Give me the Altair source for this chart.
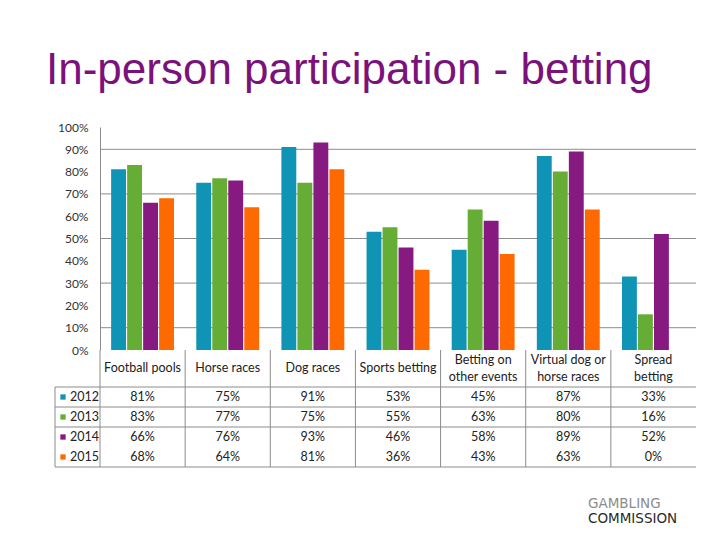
import altair as alt
import pandas as pd

categories = ["Football pools", "Horse races", "Dog races", "Sports betting",
              "Betting on other events", "Virtual dog or horse races", "Spread betting"]
header_line1 = ["Football pools", "Horse races", "Dog races", "Sports betting",
                "Betting on", "Virtual dog or", "Spread"]
header_line2 = ["", "", "", "", "other events", "horse races", "betting"]
years = ["2012", "2013", "2014", "2015"]
values_2012 = [81, 75, 91, 53, 45, 87, 33]
values_2013 = [83, 77, 75, 55, 63, 80, 16]
values_2014 = [66, 76, 93, 46, 58, 89, 52]
values_2015 = [68, 64, 81, 36, 43, 63, 0]
colors = ["#0f94b5", "#66ad36", "#861a80", "#ff6a00"]
y_ticks = list(range(0, 101, 10))
grid_values = [10, 30, 50, 70, 90]
title_text = "In-person participation - betting"
logo_lines = ["GAMBLING", "COMMISSION"]

rows = []
for yr, vals in zip(years, [values_2012, values_2013, values_2014, values_2015]):
    for c, v in zip(categories, vals):
        rows.append({"category": c, "year": yr, "value": v, "label": f"{v}%"})
df = pd.DataFrame(rows)

hdr = pd.DataFrame({"category": categories, "l1": header_line1, "l2": header_line2})
hdr_single = hdr[hdr["l2"] == ""]
hdr_double = hdr[hdr["l2"] != ""]

FONT = "Lato"
LINE = "#8c8c8c"
TXT = "#222222"
W = 596
PLOT_H = 223
H = 340
TABLE_TOP = 260

cat_scale = alt.Scale(domain=categories, paddingInner=0, paddingOuter=0)
x_enc = alt.X("category:N", sort=categories, scale=cat_scale, axis=None)
val_scale = alt.Scale(domain=[0, 100], range=[PLOT_H, 0], nice=False, zero=True)
row_scale = alt.Scale(domain=years, range=[TABLE_TOP, H], paddingInner=0, paddingOuter=0)
color_scale = alt.Scale(domain=years, range=colors)

grid = alt.Chart(pd.DataFrame({"v": grid_values})).mark_rule(color=LINE, strokeWidth=1).encode(
    y=alt.Y("v:Q", scale=val_scale, axis=None),
    x=alt.value(0), x2=alt.value(W))

bars = alt.Chart(df).mark_bar().encode(
    x=x_enc,
    xOffset=alt.XOffset("year:N", sort=years,
                        scale=alt.Scale(domain=years, paddingInner=0.07, paddingOuter=0.695)),
    y=alt.Y("value:Q", scale=val_scale,
            axis=alt.Axis(values=y_ticks, labelExpr="datum.value + '%'", ticks=False, grid=False,
                          domainColor=LINE, title=None, labelPadding=12, labelFont=FONT,
                          labelFontSize=12, labelColor="#333333")),
    color=alt.Color("year:N", scale=color_scale, legend=None))

def header_layer(data, field, ypos):
    return alt.Chart(data).mark_text(baseline="middle", fontSize=12.5, font=FONT, color=TXT).encode(
        x=x_enc, y=alt.value(ypos), text=f"{field}:N")

head_single = header_layer(hdr_single, "l1", 241)
head_top = header_layer(hdr_double, "l1", 233)
head_bot = header_layer(hdr_double, "l2", 250)

cells = alt.Chart(df).mark_text(baseline="middle", fontSize=12.5, font=FONT, color=TXT).encode(
    x=x_enc, y=alt.Y("year:N", scale=row_scale, axis=None), text="label:N")

row_df = pd.DataFrame({"year": years})
row_text = alt.Chart(row_df).mark_text(align="left", baseline="middle", fontSize=12.5, font=FONT,
                                       color=TXT).encode(
    x=alt.value(-30), y=alt.Y("year:N", scale=row_scale, axis=None), text="year:N")
row_sq = alt.Chart(row_df).mark_square(size=28, opacity=1).encode(
    x=alt.value(-37), y=alt.Y("year:N", scale=row_scale, axis=None),
    color=alt.Color("year:N", scale=color_scale, legend=None))

hlines_top = alt.Chart(pd.DataFrame({"year": years[:3]})).mark_rule(color=LINE).encode(
    y=alt.Y("year:N", scale=row_scale, bandPosition=0, axis=None),
    x=alt.value(-45), x2=alt.value(W))
hline_bottom = alt.Chart(pd.DataFrame({"year": years[3:]})).mark_rule(color=LINE).encode(
    y=alt.Y("year:N", scale=row_scale, bandPosition=1, axis=None),
    x=alt.value(-45), x2=alt.value(W))
vlines = alt.Chart(pd.DataFrame({"category": categories})).mark_rule(color=LINE).encode(
    x=alt.X("category:N", sort=categories, scale=cat_scale, bandPosition=0, axis=None),
    y=alt.value(PLOT_H), y2=alt.value(H))
left_border = alt.Chart(pd.DataFrame({"year": years[:1]})).mark_rule(color=LINE).encode(
    x=alt.value(-45), y=alt.value(TABLE_TOP), y2=alt.value(H))

logo1 = alt.Chart(pd.DataFrame({"t": [logo_lines[0]]})).mark_text(
    align="left", baseline="middle", font="DejaVu Sans", fontSize=13.5, color="#8c8c8c").encode(
    text="t:N", x=alt.value(488), y=alt.value(377))
logo2 = alt.Chart(pd.DataFrame({"t": [logo_lines[1]]})).mark_text(
    align="left", baseline="middle", font="DejaVu Sans", fontSize=13.5, color="#2a2a2a").encode(
    text="t:N", x=alt.value(488), y=alt.value(392))

chart = alt.layer(
    grid, bars, head_single, head_top, head_bot, cells, row_text, row_sq,
    hlines_top, hline_bottom, vlines, left_border, logo1, logo2
).resolve_scale(y="independent").properties(
    width=W, height=H,
    title=alt.Title(title_text, anchor="start", frame="group", dx=-54, dy=-24, font="Liberation Sans",
                    fontSize=44, fontWeight="normal", color="#7b127b"),
    padding={"left": 92, "top": 119, "right": 16, "bottom": 65},
    autosize=alt.AutoSizeParams(type="none"),
).configure_view(stroke=None)

chart.save("out.html", embed_options={"renderer": "svg", "actions": False})
